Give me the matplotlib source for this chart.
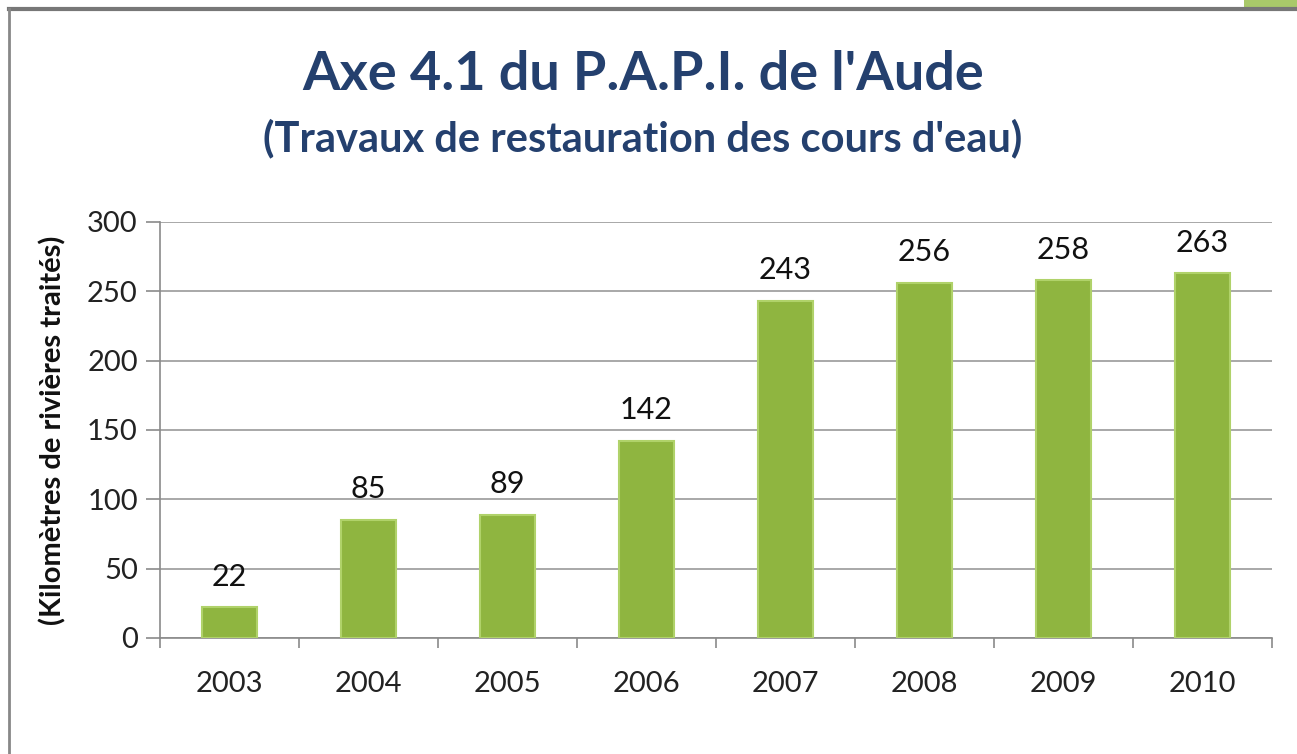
import matplotlib
matplotlib.use('Agg')
import matplotlib.pyplot as plt
from matplotlib.lines import Line2D
from matplotlib.patches import Rectangle

years = ['2003', '2004', '2005', '2006', '2007', '2008', '2009', '2010']
km_treated = [22, 85, 89, 142, 243, 256, 258, 263]
y_ticks = [0, 50, 100, 150, 200, 250, 300]

plt.rcParams['font.family'] = ['Lato', 'DejaVu Sans']

W, H = 1297, 754
fig = plt.figure(figsize=(W / 100, H / 100), dpi=100)
fig.patch.set_facecolor('white')

# axes placed in pixel terms: x 160..1272, y(0)=638, y(300)=222
ax = fig.add_axes([160 / W, 1 - 638 / H, (1272 - 160) / W, (638 - 222) / H])

x = list(range(len(years)))
ax.bar(x, km_treated, width=0.4, color='#8fb540', edgecolor='#b0d26a', linewidth=1.5, zorder=3)
for xi, v in zip(x, km_treated):
    ax.annotate(str(v), (xi, v), xytext=(0, 12), textcoords='offset points',
                ha='center', va='bottom', fontsize=22, color='#111111')

ax.set_xlim(-0.5, len(years) - 0.5)
ax.set_ylim(0, 300)
ax.set_yticks(y_ticks)
ax.yaxis.grid(True, color='#9a9a9a', linewidth=1.2, zorder=0)
ax.set_axisbelow(True)

# x ticks sit between categories, labels centered under bars
ax.set_xticks([i + 0.5 for i in x[:-1]] + [-0.5, len(years) - 0.5])
ax.set_xticklabels([])
ax.set_xticks(x, minor=True)
ax.set_xticklabels(years, minor=True, fontsize=21, color='#222222')
ax.tick_params(axis='x', which='minor', length=0, pad=24)
ax.tick_params(axis='x', which='major', length=7, color='#8a8a8a', width=1.2)
ax.tick_params(axis='y', length=10, color='#8a8a8a', width=1.2, labelsize=21,
               labelcolor='#222222', pad=6)

for s in ['top', 'right']:
    ax.spines[s].set_visible(False)
for s in ['left', 'bottom']:
    ax.spines[s].set_color('#8a8a8a')
    ax.spines[s].set_linewidth(1.2)

ax.set_ylabel("(Kilomètres de rivières traités)", fontsize=21, fontweight='bold',
              color='#111111')
ax.yaxis.set_label_coords(-94 / (1272 - 160), 0.5)

fig.text(643 / W, 1 - 74 / H, "Axe 4.1 du P.A.P.I. de l'Aude", ha='center', va='center',
         fontsize=39, fontweight='bold', color='#24406e')
fig.text(643 / W, 1 - 138 / H, "(Travaux de restauration des cours d'eau)", ha='center',
         va='center', fontsize=30, fontweight='bold', color='#24406e')

# slide frame lines and corner patch
fig.add_artist(Rectangle((1244 / W, 1 - 9 / H), (W - 1244) / W, 9 / H,
                         transform=fig.transFigure, color='#a9c96a', lw=0))
fig.add_artist(Line2D([9 / W, 1], [1 - 9 / H, 1 - 9 / H], transform=fig.transFigure,
                      color='#777777', lw=3))
fig.add_artist(Line2D([9 / W, 9 / W], [0, 1 - 9 / H], transform=fig.transFigure,
                      color='#888888', lw=2))

fig.savefig('out.png', dpi=100)
